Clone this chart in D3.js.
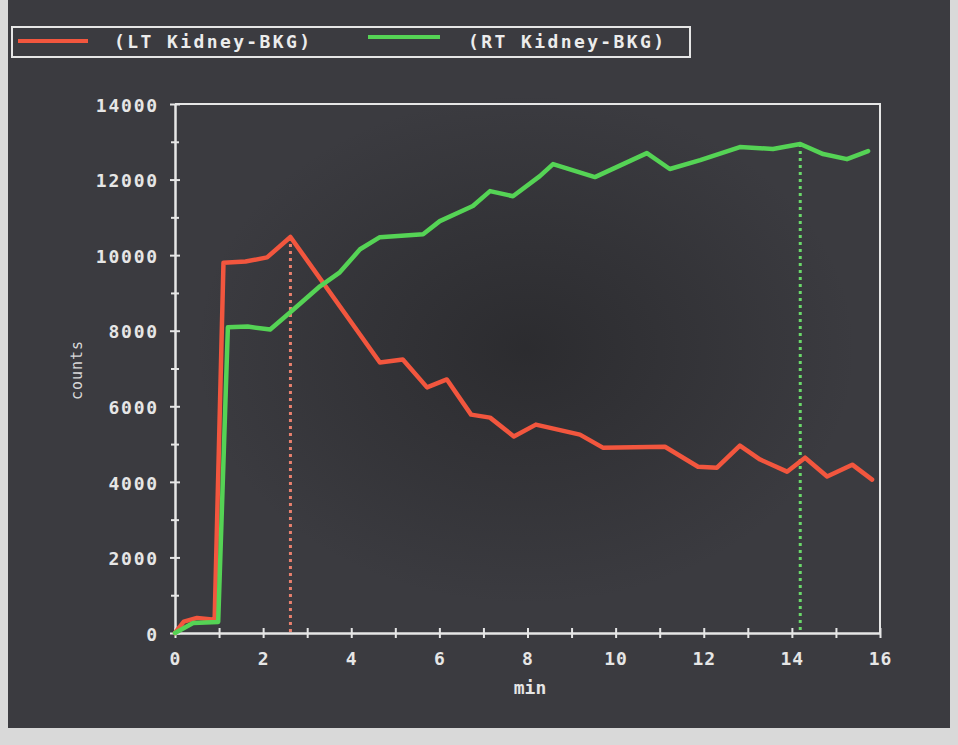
<!DOCTYPE html>
<html>
<head>
<meta charset="utf-8">
<script src="https://cdn.jsdelivr.net/npm/d3@7"></script>
<style>
  html, body { margin: 0; padding: 0; background: #d9d9d9; }
  svg { display: block; }
</style>
</head>
<body>
<svg id="chart" width="958" height="745"></svg>
<script>
// Renogram: background-subtracted counts for each kidney over time (min)
const ltTime   = [0, 0.2, 0.5, 0.9, 1.1, 1.6, 2.09, 2.62, 4.65, 5.17, 5.72, 6.17, 6.72, 7.15, 7.69, 8.19, 9.19, 9.71, 11.12, 11.87, 12.3, 12.82, 13.28, 13.89, 14.3, 14.8, 15.37, 15.82];
const ltCounts = [0, 300, 400, 350, 9800, 9830, 9940, 10480, 7160, 7240, 6500, 6710, 5780, 5700, 5200, 5515, 5250, 4905, 4930, 4400, 4375, 4960, 4590, 4270, 4640, 4140, 4455, 4060];

const rtTime   = [0, 0.41, 0.98, 1.2, 1.65, 2.16, 2.61, 3.29, 3.74, 4.2, 4.65, 5.63, 6.01, 6.76, 7.15, 7.67, 8.28, 8.58, 9.53, 10.71, 11.23, 11.92, 12.82, 13.57, 14.19, 14.71, 15.25, 15.73];
const rtCounts = [0, 265, 290, 8090, 8110, 8030, 8480, 9175, 9545, 10155, 10475, 10555, 10900, 11300, 11695, 11560, 12090, 12410, 12065, 12700, 12280, 12515, 12860, 12810, 12940, 12675, 12540, 12755];

const seriesNames  = ["(LT Kidney-BKG)", "(RT Kidney-BKG)"];
const seriesColors = ["#f2563e", "#55d355"];

const xMajorTicks = [0, 2, 4, 6, 8, 10, 12, 14, 16];
const xMinorTicks = [1, 3, 5, 7, 9, 11, 13, 15];
const yMajorTicks = [0, 2000, 4000, 6000, 8000, 10000, 12000, 14000];
const yMinorTicks = [1000, 3000, 5000, 7000, 9000, 11000, 13000];

const xTitle = "min";
const yTitle = "counts";

const svg = d3.select("#chart");
const W = 958, H = 745;
const plot = { left: 175, right: 880, top: 104, bottom: 633 };
const axisColor = "#e6e6e6";
const fontMono = "'DejaVu Sans Mono', 'Liberation Mono', monospace";

// Screen background with a slight dark smudge and light photo border
const defs = svg.append("defs");
const smudge = defs.append("radialGradient").attr("id", "smudge")
  .attr("cx", "0.55").attr("cy", "0.48").attr("r", "0.35");
smudge.append("stop").attr("offset", "0%").attr("stop-color", "#28282b").attr("stop-opacity", 0.8);
smudge.append("stop").attr("offset", "100%").attr("stop-color", "#28282b").attr("stop-opacity", 0);

svg.append("rect").attr("x", 0).attr("y", 0).attr("width", W).attr("height", H).attr("fill", "#d9d9d9");
svg.append("rect").attr("x", 8).attr("y", 0).attr("width", 942).attr("height", 728).attr("fill", "#3b3b40");
svg.append("rect").attr("x", 8).attr("y", 0).attr("width", 942).attr("height", 728).attr("fill", "url(#smudge)");

const x = d3.scaleLinear().domain([0, 16]).range([plot.left, plot.right]);
const y = d3.scaleLinear().domain([0, 14000]).range([plot.bottom, plot.top]);

// Plot frame (top and right edges; axes supply left and bottom)
svg.append("path")
  .attr("d", `M${plot.left},${plot.top}H${plot.right}V${plot.bottom}`)
  .attr("fill", "none").attr("stroke", axisColor).attr("stroke-width", 2);

// Axes with ticks crossing the axis line
function styleAxis(g, crossLen, vertical) {
  g.select(".domain").attr("stroke", axisColor).attr("stroke-width", 2);
  g.selectAll(".tick line").attr("stroke", axisColor).attr("stroke-width", 2);
  if (vertical) {
    g.selectAll(".tick line").attr("x1", -crossLen).attr("x2", crossLen);
  } else {
    g.selectAll(".tick line").attr("y1", -crossLen).attr("y2", crossLen);
  }
}

const yAxisMinor = svg.append("g").attr("transform", `translate(${plot.left},0)`)
  .call(d3.axisLeft(y).tickValues(yMinorTicks).tickFormat("").tickSizeOuter(0));
styleAxis(yAxisMinor, 4, true);

const yAxis = svg.append("g").attr("transform", `translate(${plot.left},0)`)
  .call(d3.axisLeft(y).tickValues(yMajorTicks).tickFormat(d3.format("d")).tickSizeOuter(0).tickPadding(10));
styleAxis(yAxis, 5, true);
yAxis.selectAll(".tick text")
  .attr("fill", axisColor).attr("font-family", fontMono).attr("font-weight", "bold")
  .attr("font-size", 18).attr("letter-spacing", "1.8px").attr("dy", "0.4em");

const xAxisMinor = svg.append("g").attr("transform", `translate(0,${plot.bottom})`)
  .call(d3.axisBottom(x).tickValues(xMinorTicks).tickFormat("").tickSizeOuter(0));
styleAxis(xAxisMinor, 5, false);

const xAxis = svg.append("g").attr("transform", `translate(0,${plot.bottom})`)
  .call(d3.axisBottom(x).tickValues(xMajorTicks).tickFormat(d3.format("d")).tickSizeOuter(0).tickPadding(13));
styleAxis(xAxis, 5, false);
xAxis.selectAll(".tick text")
  .attr("fill", axisColor).attr("font-family", fontMono).attr("font-weight", "bold")
  .attr("font-size", 18).attr("letter-spacing", "1px");

// Axis titles
svg.append("text").attr("x", 530).attr("y", 694).attr("text-anchor", "middle")
  .attr("fill", axisColor).attr("font-family", fontMono).attr("font-weight", "bold")
  .attr("font-size", 18).text(xTitle);
svg.append("text").attr("transform", "translate(82,370) rotate(-90)").attr("text-anchor", "middle")
  .attr("fill", "#d8d8d8").attr("font-family", fontMono).attr("font-size", 15)
  .attr("letter-spacing", "1px").text(yTitle);

// Curves
const series = [
  { time: ltTime, counts: ltCounts },
  { time: rtTime, counts: rtCounts }
];
const line = d3.line().x(d => x(d[0])).y(d => y(d[1]));

// Dotted markers from each curve's peak down to the time axis
series.forEach((s, i) => {
  const k = d3.maxIndex(s.counts);
  svg.append("line")
    .attr("x1", x(s.time[k])).attr("x2", x(s.time[k]))
    .attr("y1", y(s.counts[k])).attr("y2", y(0))
    .attr("stroke", i === 0 ? "#e8806e" : "#6ad86a")
    .attr("stroke-width", 3)
    .attr("stroke-dasharray", "3,4");
});

series.forEach((s, i) => {
  svg.append("path")
    .datum(s.time.map((t, j) => [t, s.counts[j]]))
    .attr("d", line)
    .attr("fill", "none")
    .attr("stroke", seriesColors[i])
    .attr("stroke-width", 4.5)
    .attr("stroke-linejoin", "round")
    .attr("stroke-linecap", "round");
});

// Legend
const legend = svg.append("g");
legend.append("rect").attr("x", 12).attr("y", 27).attr("width", 678).attr("height", 30)
  .attr("fill", "none").attr("stroke", axisColor).attr("stroke-width", 2);
const legendItems = [
  { lx1: 18, lx2: 88, ly: 41, tx: 114 },
  { lx1: 368, lx2: 440, ly: 37, tx: 468 }
];
legendItems.forEach((it, i) => {
  legend.append("line").attr("x1", it.lx1).attr("x2", it.lx2).attr("y1", it.ly).attr("y2", it.ly)
    .attr("stroke", seriesColors[i]).attr("stroke-width", 4);
  legend.append("text").attr("x", it.tx).attr("y", 48)
    .attr("fill", "#ececec").attr("font-family", fontMono).attr("font-weight", "bold")
    .attr("font-size", 18).attr("letter-spacing", "2.4px").text(seriesNames[i]);
});
</script>
</body>
</html>
